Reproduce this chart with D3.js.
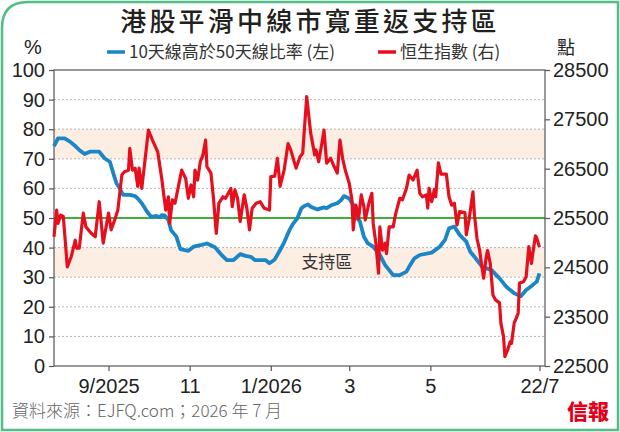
<!DOCTYPE html>
<html>
<head>
<meta charset="utf-8">
<script src="https://cdn.jsdelivr.net/npm/d3@7"></script>
<style>
html, body { margin: 0; padding: 0; background: #fff; }
svg { display: block; }
</style>
</head>
<body>
<div id="chart"></div>
<script>
// 10天線高於50天線比率 (%)
const breadthDates = ["2025-07-22","2025-07-25","2025-07-30","2025-08-03","2025-08-07","2025-08-10","2025-08-14","2025-08-18","2025-08-25","2025-08-29","2025-09-02","2025-09-05","2025-09-07","2025-09-10","2025-09-12","2025-09-17","2025-09-21","2025-09-23","2025-09-26","2025-09-30","2025-10-03","2025-10-07","2025-10-10","2025-10-11","2025-10-13","2025-10-16","2025-10-18","2025-10-22","2025-10-25","2025-10-31","2025-11-04","2025-11-10","2025-11-14","2025-11-20","2025-11-25","2025-11-29","2025-12-04","2025-12-09","2025-12-13","2025-12-17","2025-12-20","2025-12-28","2025-12-31","2026-01-04","2026-01-08","2026-01-11","2026-01-15","2026-01-18","2026-01-21","2026-01-24","2026-01-26","2026-01-29","2026-01-31","2026-02-05","2026-02-10","2026-02-12","2026-02-16","2026-02-20","2026-02-23","2026-02-25","2026-03-01","2026-03-04","2026-03-06","2026-03-09","2026-03-12","2026-03-15","2026-03-19","2026-03-24","2026-03-28","2026-03-31","2026-04-03","2026-04-08","2026-04-13","2026-04-15","2026-04-19","2026-04-23","2026-05-02","2026-05-08","2026-05-12","2026-05-15","2026-05-19","2026-05-23","2026-05-28","2026-05-31","2026-06-04","2026-06-09","2026-06-16","2026-06-22","2026-06-27","2026-07-03","2026-07-08","2026-07-12","2026-07-17","2026-07-20","2026-07-22"];
const breadthValues = [74.3,76.9,76.9,75.8,74.3,73,71.6,72.4,72.4,70.2,69,64.5,61.7,59.5,57.8,57.8,57.4,56.6,55,52.1,50.4,50.7,50.2,51,50.9,49.3,45.9,43.7,39.5,38.9,40.3,40.9,41.4,40.1,37.5,35.8,35.8,37.8,37.2,36.9,35.8,35.8,34.7,36,39.2,41.7,45.9,48.2,49.9,53.3,54,54.6,53.8,52.9,53.6,53.3,54.4,55,56.1,57.4,56.6,54.4,50.4,48.8,43.7,41.4,40.3,37.5,34.1,32.4,30.7,30.7,31.9,33.5,36.4,37.5,38.3,40.3,42.6,46.5,47.1,44.3,42,38.6,36.4,33.5,32.4,29.6,26.8,24.6,23.6,25.7,27.4,28.5,31.3];

// 恒生指數 (點)
const hsiDates = ["2025-07-22","2025-07-24","2025-07-25","2025-07-27","2025-07-29","2025-08-01","2025-08-04","2025-08-07","2025-08-08","2025-08-10","2025-08-13","2025-08-15","2025-08-19","2025-08-22","2025-08-25","2025-08-28","2025-09-01","2025-09-03","2025-09-06","2025-09-08","2025-09-11","2025-09-13","2025-09-16","2025-09-17","2025-09-19","2025-09-21","2025-09-23","2025-09-24","2025-09-26","2025-10-01","2025-10-04","2025-10-08","2025-10-11","2025-10-13","2025-10-14","2025-10-16","2025-10-17","2025-10-19","2025-10-21","2025-10-23","2025-10-26","2025-10-29","2025-10-31","2025-11-02","2025-11-04","2025-11-05","2025-11-07","2025-11-09","2025-11-11","2025-11-13","2025-11-14","2025-11-17","2025-11-19","2025-11-21","2025-11-23","2025-11-26","2025-11-28","2025-12-02","2025-12-03","2025-12-05","2025-12-07","2025-12-09","2025-12-12","2025-12-14","2025-12-16","2025-12-18","2025-12-21","2025-12-24","2025-12-27","2025-12-31","2026-01-01","2026-01-04","2026-01-06","2026-01-08","2026-01-11","2026-01-14","2026-01-16","2026-01-20","2026-01-23","2026-01-25","2026-01-28","2026-01-31","2026-02-03","2026-02-04","2026-02-06","2026-02-08","2026-02-10","2026-02-12","2026-02-15","2026-02-17","2026-02-20","2026-02-22","2026-02-24","2026-02-26","2026-03-01","2026-03-03","2026-03-04","2026-03-06","2026-03-08","2026-03-10","2026-03-12","2026-03-13","2026-03-16","2026-03-18","2026-03-19","2026-03-21","2026-03-23","2026-03-24","2026-03-26","2026-03-28","2026-03-29","2026-03-31","2026-04-03","2026-04-05","2026-04-08","2026-04-10","2026-04-13","2026-04-15","2026-04-18","2026-04-21","2026-04-23","2026-04-25","2026-04-28","2026-04-29","2026-04-30","2026-05-02","2026-05-04","2026-05-05","2026-05-07","2026-05-09","2026-05-13","2026-05-15","2026-05-17","2026-05-19","2026-05-21","2026-05-23","2026-05-27","2026-05-28","2026-05-30","2026-06-02","2026-06-03","2026-06-05","2026-06-07","2026-06-08","2026-06-10","2026-06-12","2026-06-13","2026-06-15","2026-06-17","2026-06-19","2026-06-22","2026-06-23","2026-06-25","2026-06-26","2026-06-28","2026-06-30","2026-07-01","2026-07-03","2026-07-05","2026-07-06","2026-07-07","2026-07-10","2026-07-12","2026-07-14","2026-07-16","2026-07-17","2026-07-19","2026-07-20","2026-07-22"];
const hsiValues = [25120,25660,25390,25560,25530,24510,24720,25050,24890,24890,25600,25320,25190,25120,25830,24990,25600,25260,25490,25660,26370,26440,26470,26910,26470,26510,26140,26510,26100,27280,27080,26840,26300,25870,25660,25930,25390,25870,25800,26070,26470,26300,25900,26170,25930,26470,26270,26640,26780,27080,26540,26410,25870,25190,25800,25930,25900,26100,25730,26070,25900,25430,25970,25700,25260,25700,25800,25830,25700,25660,26340,26350,26710,26140,26470,27010,26880,26510,26740,26810,27960,27220,26780,26880,26640,26950,27280,26610,26710,26580,26410,27080,26710,26470,26200,25870,25260,25760,25490,25970,25730,25460,25830,26000,25390,24990,24380,25320,24850,24990,24780,25320,25320,25600,25900,25870,26100,26370,26270,26470,26000,25930,25970,25700,26100,25830,26080,25930,26620,26390,26390,25930,25760,25800,25360,25630,25610,25160,25460,26030,25600,25090,24850,24650,24280,24720,24840,24580,23940,23840,23780,23370,23090,22690,22820,22990,22960,23370,23500,23570,24180,24210,24310,24920,24580,24780,25140,25090,24910];

const leftTicks = [0,10,20,30,40,50,60,70,80,90,100];
const rightTicks = [22500,23500,24500,25500,26500,27500,28500];
const xTickDates = ["2025-09-01","2025-11-01","2026-01-01","2026-03-01","2026-05-01","2026-07-22"];
const xTickLabels = ["9/2025","11","1/2026","3","5","22/7"];
const bands = [[30,40],[70,80]];
const pivotLevel = 50;

const W = 620, H = 432;
const plot = { left: 54, right: 545, top: 70, bottom: 366 };
const CJK = "'Noto Sans CJK TC','Noto Sans CJK SC',sans-serif";
const NUM = "'Liberation Sans Narrow','Liberation Sans',Arial,sans-serif";

const parse = d3.timeParse("%Y-%m-%d");

const svg = d3.select("#chart")
    .append("svg")
    .attr("width", W)
    .attr("height", H);

const x = d3.scaleTime()
    .domain([parse("2025-07-22"), d3.timeHour.offset(parse("2026-07-26"), 4)])
    .range([plot.left, plot.right]);
const yL = d3.scaleLinear().domain([0, 100]).range([plot.bottom, plot.top]);
const yR = d3.scaleLinear().domain([22500, 28500]).range([plot.bottom, plot.top]);

// outer frame
svg.append("path")
    .attr("d", `M2,${H - 2} V28 Q2,2 28,2 H${W - 2} V${H - 2} Z`)
    .attr("fill", "#fff")
    .attr("stroke", "#52bd84")
    .attr("stroke-width", 2.5);

// shaded zones
svg.append("g").selectAll("rect")
    .data(bands)
    .join("rect")
    .attr("x", plot.left)
    .attr("width", plot.right - plot.left)
    .attr("y", d => yL(d[1]))
    .attr("height", d => yL(d[0]) - yL(d[1]))
    .attr("fill", "#fdeee3");

// grid
svg.append("g").selectAll("line")
    .data(leftTicks.filter(t => t > 0 && t < 100 && t !== pivotLevel))
    .join("line")
    .attr("x1", plot.left).attr("x2", plot.right)
    .attr("y1", d => yL(d)).attr("y2", d => yL(d))
    .attr("stroke", "#b5b5b5")
    .attr("stroke-width", 1)
    .attr("stroke-dasharray", "2,2");

svg.append("line")
    .attr("x1", plot.left).attr("x2", plot.right)
    .attr("y1", yL(pivotLevel)).attr("y2", yL(pivotLevel))
    .attr("stroke", "#3fae3a")
    .attr("stroke-width", 2);

// axes
const leftAxis = svg.append("g")
    .attr("transform", `translate(${plot.left},0)`)
    .call(d3.axisLeft(yL).tickValues(leftTicks).tickSize(5).tickPadding(4));
const rightAxis = svg.append("g")
    .attr("transform", `translate(${plot.right},0)`)
    .call(d3.axisRight(yR).tickValues(rightTicks).tickSize(5).tickPadding(3).tickFormat(d3.format("d")));
const bottomAxis = svg.append("g")
    .attr("transform", `translate(0,${plot.bottom})`)
    .call(d3.axisBottom(x).tickValues(xTickDates.map(parse)).tickSize(5).tickPadding(7)
        .tickFormat((d, i) => xTickLabels[i]));

[leftAxis, rightAxis, bottomAxis].forEach(g => {
    g.select(".domain").remove();
    g.selectAll(".tick line").attr("stroke", "#555").attr("stroke-width", 1.2);
    g.selectAll("text")
        .attr("fill", "#222")
        .style("font-family", NUM)
        .style("font-size", "20px");
});
bottomAxis.selectAll("text").attr("dy", "0.75em");

// plot box
svg.append("rect")
    .attr("x", plot.left).attr("y", plot.top)
    .attr("width", plot.right - plot.left)
    .attr("height", plot.bottom - plot.top)
    .attr("fill", "none")
    .attr("stroke", "#555")
    .attr("stroke-width", 1.2);

// series
const breadth = breadthDates.map((d, i) => ({ date: parse(d), value: breadthValues[i] }));
const hsi = hsiDates.map((d, i) => ({ date: parse(d), value: hsiValues[i] }));

svg.append("path")
    .datum(breadth)
    .attr("fill", "none")
    .attr("stroke", "#1a86c6")
    .attr("stroke-width", 3.8)
    .attr("stroke-linejoin", "round")
    .attr("d", d3.line().x(d => x(d.date)).y(d => yL(d.value)));

svg.append("path")
    .datum(hsi)
    .attr("fill", "none")
    .attr("stroke", "#e60f1e")
    .attr("stroke-width", 3.2)
    .attr("stroke-linejoin", "round")
    .attr("d", d3.line().x(d => x(d.date)).y(d => yR(d.value)));

svg.append("text")
    .attr("x", x(parse("2026-01-24")))
    .attr("y", yL(35))
    .attr("dy", "0.35em")
    .attr("fill", "#333")
    .style("font-family", CJK)
    .style("font-size", "17px")
    .text("支持區");

// titles
svg.append("text")
    .attr("x", 310).attr("y", 31)
    .attr("text-anchor", "middle")
    .attr("fill", "#231f20")
    .style("font-family", CJK)
    .style("font-size", "26px")
    .style("font-weight", 500)
    .style("letter-spacing", "3.2px")
    .text("港股平滑中線市寬重返支持區");

svg.append("text")
    .attr("x", 33).attr("y", 54)
    .attr("text-anchor", "middle")
    .attr("fill", "#222")
    .style("font-family", NUM)
    .style("font-size", "20px")
    .text("%");

svg.append("text")
    .attr("x", 566).attr("y", 54)
    .attr("text-anchor", "middle")
    .attr("fill", "#222")
    .style("font-family", CJK)
    .style("font-size", "18px")
    .text("點");

// legend
const legend = [
    { label: "10天線高於50天線比率 (左)", color: "#1a86c6", x: 107 },
    { label: "恒生指數 (右)", color: "#e60f1e", x: 378 }
];
const lg = svg.append("g").selectAll("g")
    .data(legend)
    .join("g")
    .attr("transform", d => `translate(${d.x},52)`);
lg.append("line")
    .attr("x1", 0).attr("x2", 18)
    .attr("stroke", d => d.color)
    .attr("stroke-width", 3.5);
lg.append("text")
    .attr("x", 22)
    .attr("dy", "0.36em")
    .attr("fill", "#333")
    .style("font-family", CJK)
    .style("font-size", "17px")
    .text(d => d.label);

// footer
svg.append("text")
    .attr("x", 12).attr("y", 417)
    .attr("fill", "#666")
    .style("font-family", CJK)
    .style("font-size", "17px")
    .style("font-weight", 300)
    .text("資料來源：EJFQ.com；2026 年 7 月");

svg.append("text")
    .attr("x", 609).attr("y", 419)
    .attr("text-anchor", "end")
    .attr("fill", "#e3001b")
    .style("font-family", CJK)
    .style("font-size", "21px")
    .style("font-weight", 900)
    .text("信報");
</script>
</body>
</html>
